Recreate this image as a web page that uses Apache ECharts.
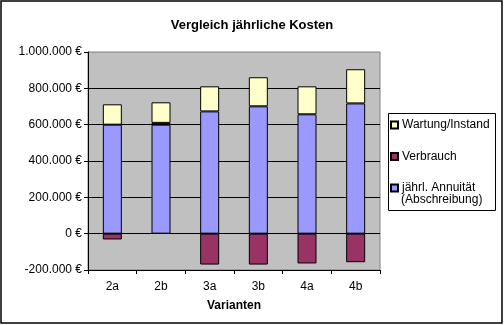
<!DOCTYPE html>
<html><head><meta charset="utf-8">
<script src="https://cdn.jsdelivr.net/npm/echarts@6/dist/echarts.min.js"></script>
<style>html,body{margin:0;padding:0;background:#fff}#c{width:504px;height:325px}</style>
</head><body><div id="c"></div>
<script>
var categories = ['2a', '2b', '3a', '3b', '4a', '4b'];
var annuitaet = [600000, 600000, 673000, 701000, 657000, 717000];
var verbrauch = [-32000, 10000, -170000, -170000, -164000, -157000];
var wartung = [112000, 113000, 138000, 160000, 154000, 188000];
var seriesNames = ['jährl. Annuität (Abschreibung)', 'Verbrauch', 'Wartung/Instand'];
var FONT = '"Liberation Sans", Arial, sans-serif';

function fmt(v) {
  return String(v).replace(/\B(?=(\d{3})+(?!\d))/g, '.') + ' €';
}

var chart = echarts.init(document.getElementById('c'));
var border = {borderColor: '#000', borderWidth: 1};
chart.setOption({
  animation: false,
  textStyle: {fontFamily: FONT},
  title: {
    text: 'Vergleich jährliche Kosten', left: 'center', top: 14,
    textStyle: {fontFamily: FONT, fontSize: 13, fontWeight: 'bold', color: '#000'}
  },
  grid: {
    left: 88, top: 52, width: 292, height: 218,
    show: true, backgroundColor: '#C0C0C0', borderColor: '#808080', borderWidth: 1
  },
  xAxis: {
    type: 'category', data: categories,
    name: 'Varianten', nameLocation: 'middle', nameGap: 30,
    nameTextStyle: {fontFamily: FONT, fontSize: 12, fontWeight: 'bold', color: '#000'},
    axisLine: {onZero: false, lineStyle: {color: '#000', width: 1}},
    axisTick: {show: true, length: 4, lineStyle: {color: '#000'}},
    axisLabel: {margin: 11, fontFamily: FONT, fontSize: 12, color: '#000'}
  },
  yAxis: {
    type: 'value', min: -200000, max: 1000000, interval: 200000,
    axisLine: {show: true, lineStyle: {color: '#000', width: 1}},
    axisTick: {show: true, length: 4, lineStyle: {color: '#000'}},
    axisLabel: {margin: 6, fontFamily: FONT, fontSize: 12, color: '#000', formatter: fmt},
    splitLine: {show: true, showMaxLine: false, lineStyle: {color: '#000', width: 1}}
  },
  legend: {
    orient: 'vertical', left: 390, top: 118, padding: 0, itemGap: 17.5,
    itemWidth: 7, itemHeight: 7, icon: 'rect',
    data: [seriesNames[2], seriesNames[1], seriesNames[0]],
    formatter: function (n) { return n === seriesNames[0] ? 'jährl. Annuität' : n; },
    textStyle: {fontFamily: FONT, fontSize: 12, color: '#000', lineHeight: 14, padding: [0, 0, 0, -1]}
  },
  graphic: [
    {type: 'rect', shape: {x: 1, y: 1, width: 501, height: 322}, style: {fill: 'none', stroke: '#000', lineWidth: 1.5}, silent: true},
    {type: 'rect', shape: {x: 388.5, y: 113.5, width: 107, height: 97}, style: {fill: 'none', stroke: '#000', lineWidth: 1}, silent: true, z: 10},
    {type: 'text', left: 401, top: 194, style: {text: '(Abschreibung)', font: '12px ' + FONT, fill: '#000'}, silent: true, z: 10}
  ],
  series: [
    {name: seriesNames[0], type: 'bar', stack: 'k', data: annuitaet, barWidth: 19,
     itemStyle: Object.assign({color: '#9999FF'}, border)},
    {name: seriesNames[1], type: 'bar', stack: 'k', data: verbrauch, barWidth: 19,
     itemStyle: Object.assign({color: '#993366'}, border)},
    {name: seriesNames[2], type: 'bar', stack: 'k', data: wartung, barWidth: 19,
     itemStyle: Object.assign({color: '#FFFFCC'}, border)}
  ]
});
</script></body></html>
